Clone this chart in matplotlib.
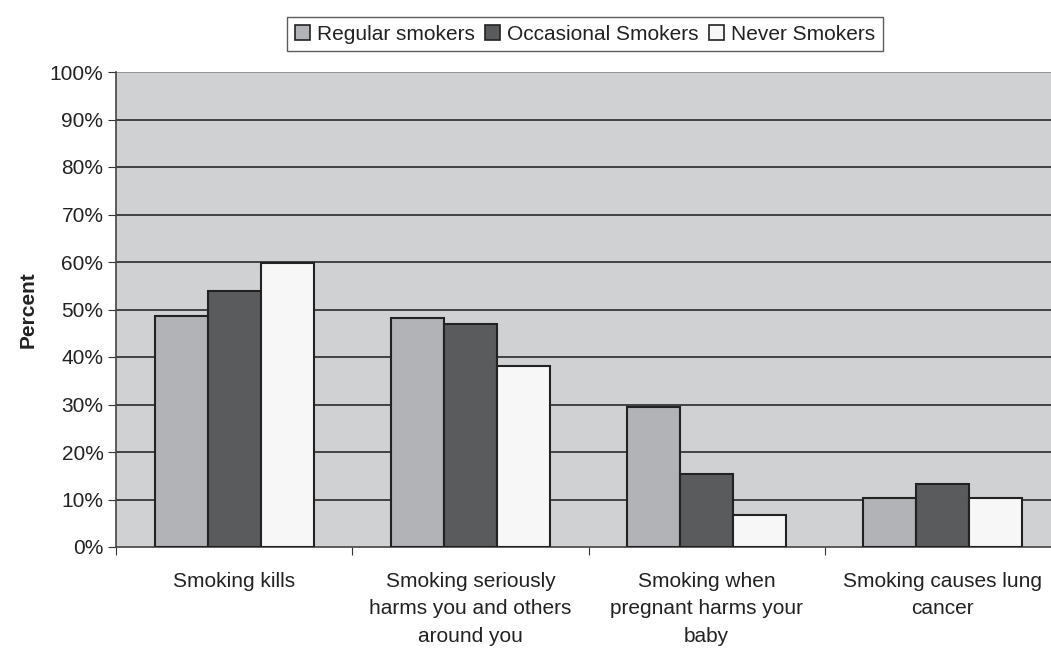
import matplotlib
matplotlib.use("Agg")
import matplotlib.pyplot as plt
import numpy as np
from matplotlib.patches import Patch

plt.rcParams['font.family'] = ['Liberation Sans', 'DejaVu Sans']

categories = ["Smoking kills",
              "Smoking seriously\nharms you and others\naround you",
              "Smoking when\npregnant harms your\nbaby",
              "Smoking causes lung\ncancer"]
series_names = ["Regular smokers", "Occasional Smokers", "Never Smokers"]
regular = [48.6, 48.2, 29.5, 10.3]
occasional = [53.9, 46.9, 15.4, 13.3]
never = [59.8, 38.1, 6.7, 10.3]
yticks = [0, 10, 20, 30, 40, 50, 60, 70, 80, 90, 100]

colors = ["#b2b3b6", "#5a5b5d", "#f7f7f7"]
edge = "#222222"
FS = 15

fig = plt.figure(figsize=(10.51, 6.49), dpi=100)
W, H = 1051, 649
ax = fig.add_axes([116 / W, 1 - 547 / H, (1061 - 116) / W, (547 - 72) / H])
ax.set_facecolor("#d0d1d3")

x = np.arange(len(categories))
bw = 0.224
for i, (vals, c) in enumerate(zip([regular, occasional, never], colors)):
    ax.bar(x + (i - 1) * bw, vals, width=bw, color=c, edgecolor=edge,
           linewidth=1.5, zorder=3)

ax.set_ylim(0, 100)
ax.set_xlim(-0.5, len(categories) - 0.5)
ax.set_yticks(yticks)
ax.set_yticklabels([f"{v}%" for v in yticks], fontsize=FS, color="#222222")
for v in yticks[1:]:
    ax.axhline(v, color="#8a8a8a" if v == 100 else "#2a2a2a", lw=1.2, zorder=1)

ax.set_xticks(np.arange(len(categories) + 1) - 0.5)
ax.set_xticklabels([])
ax.set_xticks(x, minor=True)
ax.set_xticklabels(categories, minor=True, fontsize=FS, color="#222222",
                   linespacing=1.55)
ax.tick_params(axis='x', which='minor', length=0, pad=18)
ax.tick_params(axis='x', which='major', length=6, color="#333333", direction='out')
ax.tick_params(axis='y', length=6, color="#333333", pad=3)

for s in ["top", "right"]:
    ax.spines[s].set_visible(False)
ax.spines["left"].set_color("#444444")
ax.spines["left"].set_linewidth(1.2)
ax.spines["bottom"].set_color("#444444")
ax.spines["bottom"].set_linewidth(1.2)

ax.set_ylabel("Percent", fontsize=FS, fontweight='bold', color="#222222", labelpad=9)

handles = [Patch(facecolor=c, edgecolor=edge, linewidth=1.2) for c in colors]
leg = fig.legend(handles, series_names, loc='center', ncol=3,
                 bbox_to_anchor=(585 / W, 1 - 34 / H), fontsize=FS,
                 frameon=True, fancybox=False, edgecolor="#333333",
                 handlelength=0.7, handleheight=0.7, handletextpad=0.35,
                 columnspacing=0.5, borderpad=0.38, borderaxespad=0)
leg.get_frame().set_linewidth(1.0)
for t in leg.get_texts():
    t.set_color("#222222")

fig.savefig("out.png", dpi=100)
